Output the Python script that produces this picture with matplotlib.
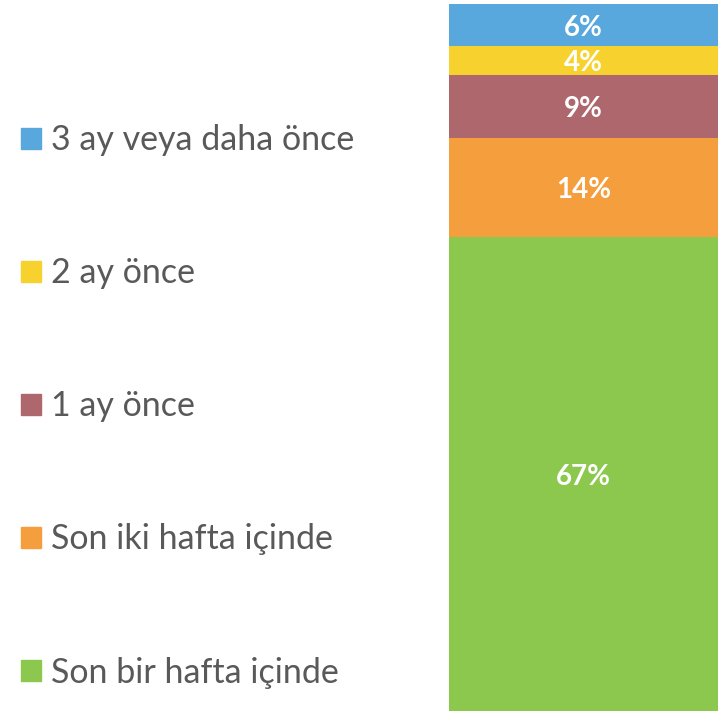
import matplotlib.pyplot as plt
from matplotlib.patches import Patch

categories = ['Son bir hafta içinde', 'Son iki hafta içinde', '1 ay önce',
              '2 ay önce', '3 ay veya daha önce']
values = [67, 14, 9, 4, 6]
colors = ['#8CC84E', '#F59E3E', '#AE676D', '#F7D22F', '#58A7DD']

plt.rcParams['font.family'] = ['Lato', 'DejaVu Sans']

fig = plt.figure(figsize=(7.18, 7.14), dpi=100)
ax = fig.add_axes([449 / 718, 3 / 714, 269 / 718, 707 / 714])

bottom = 0
handles = []
for cat, val, col in zip(categories, values, colors):
    ax.bar(0, val, bottom=bottom, width=1.0, color=col, label=cat)
    ax.text(0, bottom + val / 2, f'{val}%', ha='center', va='center_baseline',
            color='white', fontsize=20, fontweight='bold')
    bottom += val
    handles.append(Patch(color=col, label=cat))

ax.set_xlim(-0.5, 0.5)
ax.set_ylim(0, bottom)
ax.axis('off')

fig.legend(handles=handles[::-1], loc='upper left', bbox_to_anchor=(7 / 718, 0.845),
           frameon=False, fontsize=24.5, labelcolor='#595959',
           handlelength=0.59, handleheight=0.59, handletextpad=0.3,
           labelspacing=2.97, borderaxespad=0)

fig.savefig('out.png', dpi=100)
